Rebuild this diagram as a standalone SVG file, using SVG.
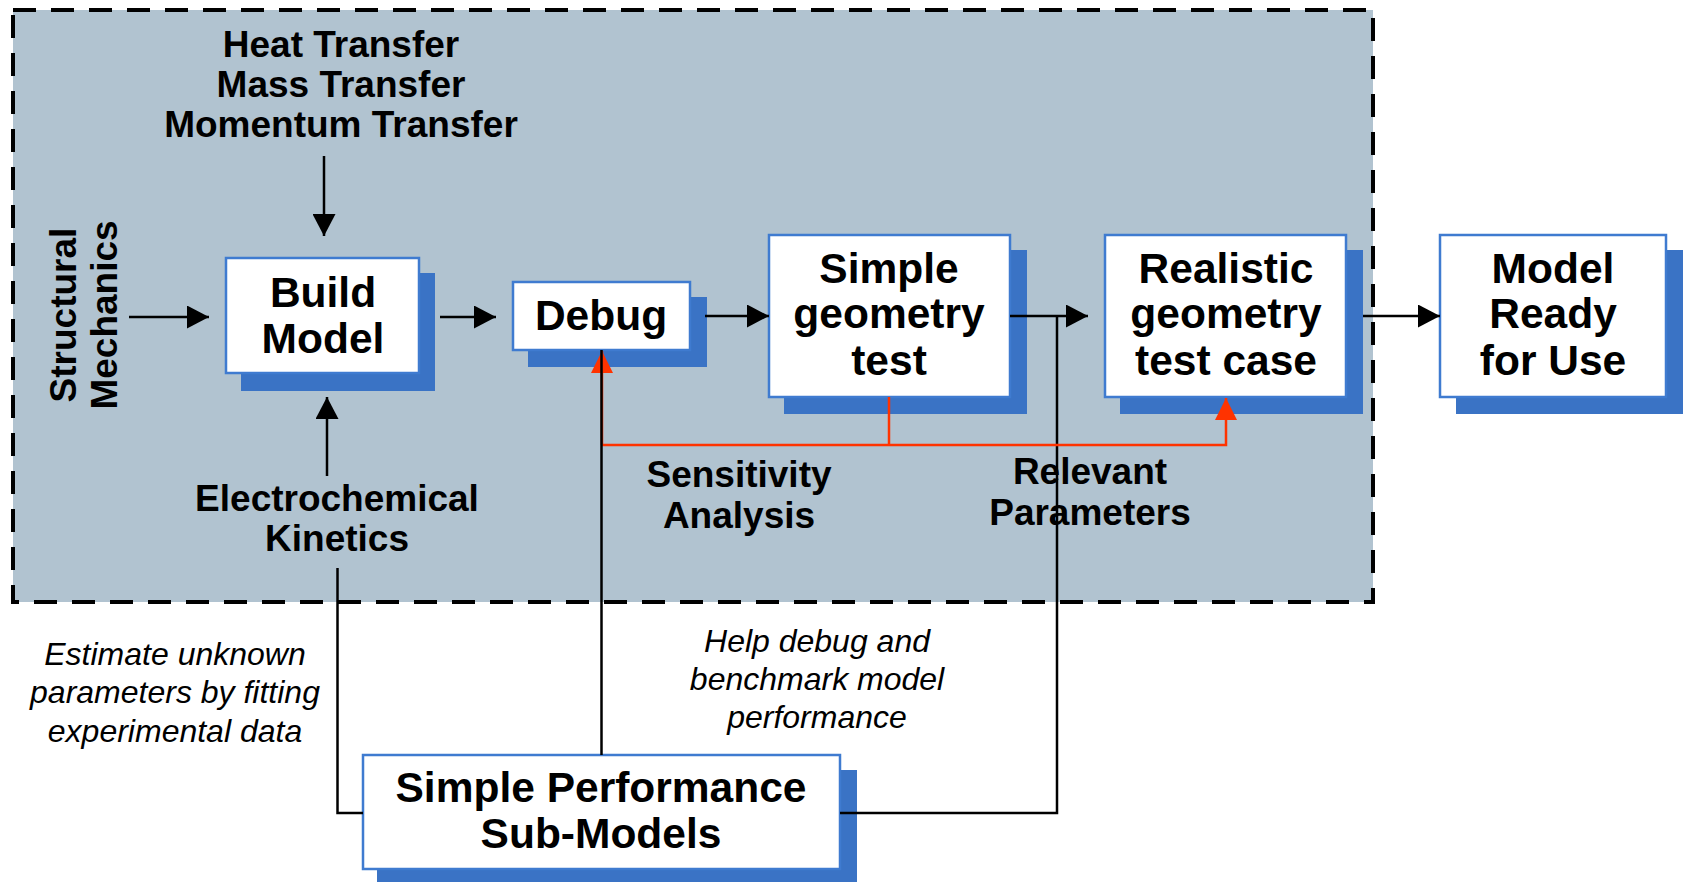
<svg xmlns="http://www.w3.org/2000/svg" width="1683" height="882" viewBox="0 0 1683 882">
<defs>
<style>
.t{font-family:"Liberation Sans",Arial,sans-serif;font-weight:bold;fill:#000;text-anchor:middle}
.b{font-size:42.5px}
.l{font-size:37px}
.i{font-family:"Liberation Sans",Arial,sans-serif;font-style:italic;font-size:32px;fill:#000;text-anchor:middle}
.box{fill:#fff;stroke:#3f7bd0;stroke-width:2.5}
.sh{fill:#3a73c5}
.ln{fill:none;stroke:#000;stroke-width:2.5}
.rd{fill:none;stroke:#ff3300;stroke-width:2.5}
</style>
<marker id="ah" markerWidth="22" markerHeight="23" refX="22" refY="11.5" orient="auto" markerUnits="userSpaceOnUse">
<path d="M0,0 L22,11.5 L0,23 Z" fill="#000"/>
</marker>
<marker id="rh" markerWidth="22" markerHeight="22" refX="22" refY="11" orient="auto" markerUnits="userSpaceOnUse">
<path d="M0,0 L22,11 L0,22 Z" fill="#ff3300"/>
</marker>
</defs>
<rect width="1683" height="882" fill="#fff"/>
<g id="frame">
<rect x="13" y="10" width="1360" height="592" fill="#b1c3d0" stroke="#000" stroke-width="4" stroke-dasharray="23 15"/>
</g>
<g id="build-model">
<rect class="sh" x="241" y="273" width="194" height="118"/>
<rect class="box" x="226" y="258" width="193" height="115"/>
<text class="t b" x="323" y="307">Build</text>
<text class="t b" x="323" y="353">Model</text>
</g>
<g id="debug">
<rect class="sh" x="528" y="297" width="179" height="70"/>
<rect class="box" x="513" y="282" width="177" height="68"/>
<text class="t b" x="601" y="330">Debug</text>
</g>
<g id="simple-geometry">
<rect class="sh" x="784" y="250" width="243" height="164"/>
<rect class="box" x="769" y="235" width="241" height="162"/>
<text class="t b" x="889" y="283">Simple</text>
<text class="t b" x="889" y="328">geometry</text>
<text class="t b" x="889" y="375">test</text>
</g>
<g id="realistic-geometry">
<rect class="sh" x="1120" y="250" width="243" height="164"/>
<rect class="box" x="1105" y="235" width="241" height="162"/>
<text class="t b" x="1226" y="283">Realistic</text>
<text class="t b" x="1226" y="328">geometry</text>
<text class="t b" x="1226" y="375">test case</text>
</g>
<g id="model-ready">
<rect class="sh" x="1456" y="250" width="240" height="164"/>
<rect class="box" x="1440" y="235" width="226" height="162"/>
<text class="t b" x="1553" y="283">Model</text>
<text class="t b" x="1553" y="328">Ready</text>
<text class="t b" x="1553" y="375">for Use</text>
</g>
<g id="sub-models">
<rect class="sh" x="377" y="770" width="480" height="120"/>
<rect class="box" x="363" y="755" width="477" height="114"/>
<text class="t b" x="601" y="802">Simple Performance</text>
<text class="t b" x="601" y="848">Sub-Models</text>
</g>
<g id="connectors">
<line class="ln" x1="324" y1="156" x2="324" y2="236" marker-end="url(#ah)"/>
<line class="ln" x1="129" y1="317" x2="209" y2="317" marker-end="url(#ah)"/>
<line class="ln" x1="327" y1="476" x2="327" y2="397" marker-end="url(#ah)"/>
<line class="ln" x1="440" y1="317" x2="496" y2="317" marker-end="url(#ah)"/>
<line class="ln" x1="705" y1="316" x2="769" y2="316" marker-end="url(#ah)"/>
<line class="ln" x1="1010" y1="316" x2="1088" y2="316" marker-end="url(#ah)"/>
<line class="ln" x1="1363" y1="316" x2="1440" y2="316" marker-end="url(#ah)"/>
<polyline class="ln" points="337.5,568 337.5,813 363,813"/>
<polyline class="ln" points="1057,316 1057,813 840,813" stroke-width="2"/>
<polyline class="rd" points="889,397 889,445"/>
<polyline class="rd" points="602,445 1226,445 1226,398" marker-end="url(#rh)"/>
<line class="rd" x1="602" y1="445" x2="602" y2="351" marker-end="url(#rh)"/>
<line class="ln" x1="601.5" y1="755" x2="601.5" y2="350"/>
</g>
<g id="transfer-label">
<text class="t l" x="341" y="57">Heat Transfer</text>
<text class="t l" x="341" y="97">Mass Transfer</text>
<text class="t l" x="341" y="137">Momentum Transfer</text>
</g>
<g id="structural-label">
<text class="t l" transform="translate(76,315) rotate(-90)">Structural</text>
<text class="t l" transform="translate(117,315) rotate(-90)">Mechanics</text>
</g>
<g id="electrochem-label">
<text class="t l" x="337" y="511">Electrochemical</text>
<text class="t l" x="337" y="551">Kinetics</text>
</g>
<g id="sensitivity-label">
<text class="t l" x="739" y="487">Sensitivity</text>
<text class="t l" x="739" y="528">Analysis</text>
</g>
<g id="relevant-label">
<text class="t l" x="1090" y="484">Relevant</text>
<text class="t l" x="1090" y="525">Parameters</text>
</g>
<g id="estimate-label">
<text class="i" x="175" y="665">Estimate unknown</text>
<text class="i" x="175" y="703">parameters by fitting</text>
<text class="i" x="175" y="742">experimental data</text>
</g>
<g id="help-label">
<text class="i" x="817" y="652">Help debug and</text>
<text class="i" x="817" y="690">benchmark model</text>
<text class="i" x="817" y="728">performance</text>
</g>
</svg>
